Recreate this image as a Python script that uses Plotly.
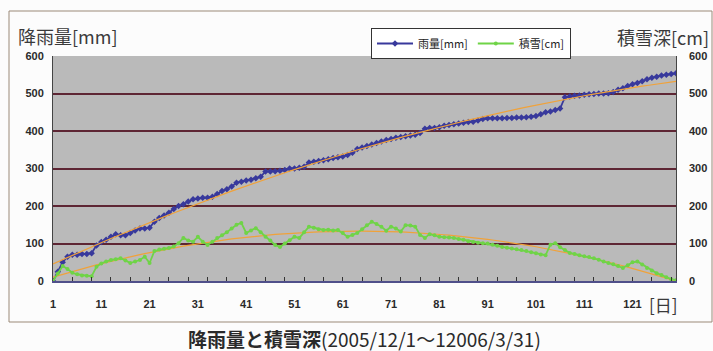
import numpy as np
import plotly.graph_objects as go

days = list(range(1, 131))

rain_mm = [0, 25, 50, 65, 70, 70, 72, 72, 74, 95,
           104, 110, 118, 125, 122, 122, 128, 135, 140, 140,
           142, 158, 168, 175, 182, 192, 200, 205, 212, 218,
           220, 222, 222, 225, 232, 240, 245, 252, 262, 265,
           268, 270, 274, 278, 292, 292, 293, 294, 296, 300,
           300, 302, 305, 316, 318, 320, 322, 325, 328, 330,
           332, 336, 342, 352, 356, 360, 364, 368, 372, 376,
           379, 382, 384, 386, 388, 390, 395, 406, 408, 408,
           410, 414, 416, 418, 420, 422, 424, 425, 428, 432,
           434, 434, 434, 434, 435, 435, 436, 436, 437, 438,
           440, 445, 450, 452, 456, 460, 490, 492, 494, 495,
           497, 498, 499, 500, 500, 501, 504, 510, 514, 520,
           525, 528, 533, 538, 542, 545, 548, 550, 552, 554]

snow_cm = [0, 20, 40, 32, 22, 18, 15, 14, 13, 38,
           47, 52, 56, 58, 61, 55, 48, 52, 56, 65,
           48, 80, 84, 86, 88, 92, 101, 115, 108, 105,
           118, 105, 96, 105, 115, 122, 130, 140, 150, 155,
           128, 135, 141, 130, 118, 108, 96, 91, 100, 109,
           118, 115, 130, 145, 142, 138, 136, 137, 135, 136,
           128, 118, 123, 128, 138, 149, 158, 152, 145, 134,
           145, 140, 132, 149, 148, 145, 123, 115, 125, 122,
           118, 117, 116, 115, 112, 110, 106, 104, 102, 101,
           100, 97, 94, 91, 89, 87, 85, 83, 80, 77,
           74, 71, 69, 97, 101, 90, 83, 75, 72, 69,
           66, 64, 61, 57, 52, 48, 45, 40, 35, 42,
           50, 52, 44, 35, 28, 21, 16, 10, 5, 2]

x_ticks = list(range(1, 122, 10))
x_marks = list(range(1, 131, 4))
y_ticks = [0, 100, 200, 300, 400, 500, 600]

# polynomial trend lines (as in the spreadsheet)
d = np.array(days, dtype=float)
rain_trend = np.polyval(np.polyfit(d, rain_mm, 2), d)
snow_trend = np.polyval(np.polyfit(d, snow_cm, 2), d)

BLUE = "#38399c"
GREEN = "#6fd447"
ORANGE = "#f0a23a"

fig = go.Figure()
fig.add_trace(go.Scatter(x=days, y=rain_trend, mode="lines", showlegend=False,
                         line=dict(color=ORANGE, width=1.2), hoverinfo="skip",
                         xaxis="x2"))
fig.add_trace(go.Scatter(x=days, y=snow_trend, mode="lines", showlegend=False,
                         line=dict(color=ORANGE, width=1.2), hoverinfo="skip",
                         yaxis="y2"))
fig.add_trace(go.Scatter(x=days, y=rain_mm, name="雨量[mm]", mode="lines+markers",
                         line=dict(color=BLUE, width=1.8),
                         marker=dict(symbol="diamond", size=5, color=BLUE)))
fig.add_trace(go.Scatter(x=days, y=snow_cm, name="積雪[cm]", mode="lines+markers",
                         line=dict(color=GREEN, width=1.8),
                         marker=dict(symbol="circle", size=4, color=GREEN),
                         yaxis="y2"))

W, H = 713, 351
L, R, T, B = 53, 37, 56, 70
pw, ph = W - L - R, H - T - B

def px(xp):
    return (xp - L) / pw

def py(yp):
    return (H - B - yp) / ph

tickfont = dict(family="Liberation Sans, Arial", size=11, color="#2a2a2a", weight="bold")

fig.update_layout(
    width=W, height=H,
    margin=dict(l=L, r=R, t=T, b=B, autoexpand=False),
    paper_bgcolor="#fcfcfc",
    plot_bgcolor="#bababa",
    showlegend=True,
    legend=dict(orientation="h", x=px(371), y=py(28), xanchor="left", yanchor="top",
                bgcolor="#ffffff", bordercolor="#333333", borderwidth=1,
                font=dict(family="Noto Sans CJK JP", size=11, color="#222"),
                itemwidth=36, tracegroupgap=0),
    xaxis=dict(range=[1, 130], tickmode="array", tickvals=x_ticks,
               ticktext=[str(v) for v in x_ticks], ticks="", showgrid=False,
               zeroline=False, showline=True, linecolor="#50508a", linewidth=1.5,
               mirror=False, tickfont=tickfont, ticklabelstandoff=12, automargin=False),
    xaxis2=dict(range=[1, 130], overlaying="x", anchor="y", side="bottom",
                tickmode="array", tickvals=x_marks, ticks="inside", ticklen=4,
                tickwidth=1, tickcolor="#333", showticklabels=False, automargin=False,
                showgrid=False, zeroline=False, showline=False),
    yaxis=dict(range=[0, 600], tickvals=y_ticks, showgrid=True,
               gridcolor="#5e2634", gridwidth=1.5, zeroline=False,
               showline=True, linecolor="#444", linewidth=1, mirror=True,
               ticks="", tickfont=tickfont, ticklabelstandoff=6, automargin=False),
    yaxis2=dict(range=[0, 600], tickvals=y_ticks, overlaying="y", side="right",
                showgrid=False, zeroline=False, showline=False, automargin=False,
                ticks="", tickfont=tickfont, ticklabelstandoff=12),
    annotations=[
        dict(text="降雨量[mm]", xref="paper", yref="paper", x=px(16), y=py(36),
             xanchor="left", yanchor="middle", showarrow=False,
             font=dict(family="Noto Sans CJK JP", size=18, color="#3a3a3a")),
        dict(text="積雪深[cm]", xref="paper", yref="paper", x=px(711), y=py(37),
             xanchor="right", yanchor="middle", showarrow=False,
             font=dict(family="Noto Sans CJK JP", size=18, color="#3a3a3a")),
        dict(text="[日]", xref="paper", yref="paper", x=px(647), y=py(304),
             xanchor="left", yanchor="middle", showarrow=False,
             font=dict(family="Noto Sans CJK JP", size=17, color="#3a3a3a")),
        dict(text="<b>降雨量と積雪深</b>(2005/12/1～12006/3/31)", xref="paper", yref="paper",
             x=px(364), y=py(338), xanchor="center", yanchor="middle", showarrow=False,
             font=dict(family="Noto Sans CJK JP", size=19, color="#2a2a2a")),
    ],
    shapes=[
        dict(type="rect", xref="paper", yref="paper",
             x0=px(9), x1=px(712), y0=py(322), y1=py(11),
             line=dict(color="#9b8a78", width=1), fillcolor="rgba(0,0,0,0)", layer="below"),
    ],
)

fig.write_html("out.html", config={"displayModeBar": False},
               post_script="document.body.style.margin='0';document.body.style.padding='0';")
